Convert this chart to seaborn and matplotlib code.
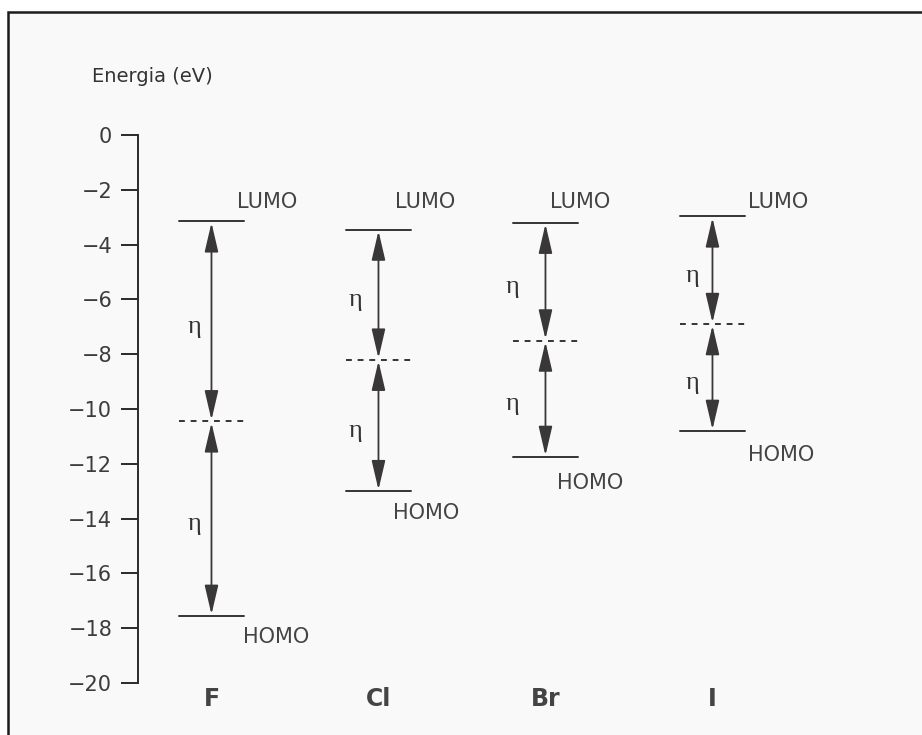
import pandas as pd
import seaborn as sns
import matplotlib.pyplot as plt
from matplotlib.patches import Rectangle, ArrowStyle

# energy levels (eV)
elements = ["F", "Cl", "Br", "I"]
lumo = [-3.15, -3.45, -3.2, -2.97]
homo = [-17.55, -13.0, -11.75, -10.8]
mid = [-10.45, -8.2, -7.5, -6.9]
yticks = [0, -2, -4, -6, -8, -10, -12, -14, -16, -18, -20]

# label placement (layout only)
lumo_dx = [0.153, 0.099, 0.027, 0.213]
lumo_y = -2.45
homo_dx = [0.189, 0.087, 0.069, 0.213]
homo_dy = [-0.77, -0.8, -0.95, -0.88]
eta_dx = [-0.10, -0.14, -0.20, -0.12]
half = 0.195

#long table of level segments for seaborn
rows = []
for i, el in enumerate(elements):
    for kind, vals in (("LUMO", lumo), ("HOMO", homo), ("mid", mid)):
        for x in (i - half, i + half):
            rows.append({"x": x, "E": vals[i], "kind": kind, "seg": el + kind})
df = pd.DataFrame(rows)

sns.set_style("ticks")
plt.rcParams["font.family"] = ["DejaVu Sans"]

fig = plt.figure(figsize=(9.22, 7.35), dpi=100)
fig.patch.set_facecolor("white")

# frame of the scanned page
frame = Rectangle((8 / 922, -0.1), 1.2, 1.1 - 12 / 735, transform=fig.transFigure,
                  facecolor="#f9f9f9", edgecolor="#1c1c1c", lw=1.8, zorder=-1)
fig.add_artist(frame)

ax = fig.add_axes([138 / 922, 1 - 683 / 735, 762 / 922, 548 / 735])
ax.set_facecolor("none")

sns.lineplot(data=df, x="x", y="E", units="seg", estimator=None, style="kind",
             dashes={"LUMO": "", "HOMO": "", "mid": (3, 3)}, color="#343434",
             lw=1.4, legend=False, sort=False, ax=ax)

# double arrows (eta) between levels
arrow = ArrowStyle("<|-|>", head_length=1.8, head_width=0.42)
for i in range(len(elements)):
    for a, b in ((lumo[i], mid[i]), (mid[i], homo[i])):
        ax.annotate("", xy=(i, b), xytext=(i, a),
                    arrowprops=dict(arrowstyle=arrow, mutation_scale=10, lw=1.3,
                                    color="#3a3739", shrinkA=1, shrinkB=1))
        ax.text(i + eta_dx[i], (a + b) / 2 - 0.2, "η", family="Liberation Serif",
                fontsize=19, ha="center", va="center", color="#333333")
    ax.text(i + lumo_dx[i], lumo_y, "LUMO", fontsize=15, ha="left", va="center",
            color="#444444")
    ax.text(i + homo_dx[i], homo[i] + homo_dy[i], "HOMO", fontsize=15, ha="left",
            va="center", color="#444444")
    ax.text(i, -20.6, elements[i], fontsize=17, fontweight="bold", ha="center",
            va="center", color="#444444", clip_on=False)

ax.set_xlim(-0.44, 4.123)
ax.set_ylim(-20, 0)
ax.set_yticks(yticks)
ax.set_xticks([])
ax.set_xlabel("")
ax.set_ylabel("")
ax.tick_params(axis="y", length=12, width=1.4, pad=6.5, labelsize=15,
               labelcolor="#3c3c3c", color="#2a2a2a")
sns.despine(ax=ax, bottom=True)
ax.spines["left"].set_linewidth(1.4)
ax.spines["left"].set_color("#2a2a2a")

fig.text(92 / 922, 1 - 76 / 735, "Energia (eV)", fontsize=14, ha="left",
         va="center", color="#333333")

fig.savefig("out.png", dpi=100)
